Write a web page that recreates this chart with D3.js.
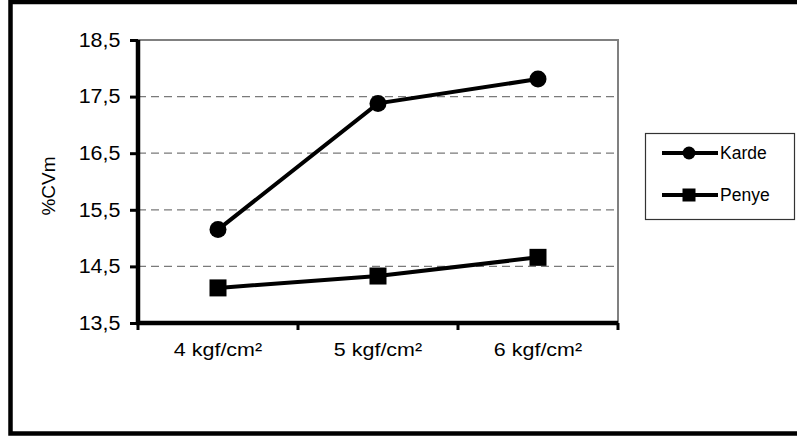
<!DOCTYPE html>
<html>
<head>
<meta charset="utf-8">
<script src="https://cdn.jsdelivr.net/npm/d3@7/dist/d3.min.js"></script>
<style>
  html, body { margin: 0; padding: 0; background: #fff; }
  svg { display: block; }
  text { font-family: Arial, "Liberation Sans", sans-serif; fill: #000; }
</style>
</head>
<body>
<script>
// Pressure levels on the x axis
const categories = ["4 kgf/cm²", "5 kgf/cm²", "6 kgf/cm²"];
// %CVm values per series
const kardeValues = [15.15, 17.38, 17.81];
const penyeValues = [14.12, 14.33, 14.66];
const seriesNames = ["Karde", "Penye"];
// Y axis ticks and their labels
const yTicks = [13.5, 14.5, 15.5, 16.5, 17.5, 18.5];
const yTickLabels = ["13,5", "14,5", "15,5", "16,5", "17,5", "18,5"];

const W = 797, H = 437;
const plot = { left: 138, right: 618, top: 40, bottom: 323 };

const svg = d3.select("body").append("svg").attr("width", W).attr("height", H);

// Outer frame
svg.append("rect")
  .attr("x", 10.5).attr("y", 2).attr("width", 800).attr("height", 431.5)
  .attr("fill", "#fff").attr("stroke", "#000").attr("stroke-width", 4.5);

const x = d3.scaleBand().domain(categories).range([plot.left, plot.right]);
const y = d3.scaleLinear().domain([13.5, 18.5]).range([plot.bottom, plot.top]);

// Dashed gridlines
svg.append("g").selectAll("line")
  .data(yTicks.filter(t => t > 13.5 && t < 18.5))
  .join("line")
  .attr("x1", plot.left).attr("x2", plot.right)
  .attr("y1", d => y(d)).attr("y2", d => y(d))
  .attr("stroke", "#7a7a7a").attr("stroke-width", 1.2)
  .attr("stroke-dasharray", "8,5");

// Gray top and right border of the plot area
svg.append("path")
  .attr("d", `M${plot.left},${y(18.5)}H${plot.right}V${plot.bottom}`)
  .attr("fill", "none").attr("stroke", "#808080").attr("stroke-width", 2);

// Y axis
const yAxis = d3.axisLeft(y).tickValues(yTicks)
  .tickFormat((d, i) => yTickLabels[i]).tickSize(8).tickPadding(8);
const gy = svg.append("g").attr("transform", `translate(${plot.left},0)`).call(yAxis);
gy.select(".domain").attr("stroke", "#000").attr("stroke-width", 4.5)
  .attr("d", `M0,${plot.top}V${plot.bottom + 2}`);
gy.selectAll(".tick line").attr("stroke", "#000").attr("stroke-width", 3);
gy.selectAll(".tick text").attr("font-size", 19.5)
  .style("font-family", "Arial, 'Liberation Sans', sans-serif")
  .attr("fill", "#000")
  .attr("transform", "scale(1.1,1)");

// X axis with ticks at category boundaries
const boundaries = categories.map(c => x(c)).concat([plot.right]);
svg.append("line")
  .attr("x1", plot.left - 2).attr("x2", plot.right)
  .attr("y1", plot.bottom).attr("y2", plot.bottom)
  .attr("stroke", "#000").attr("stroke-width", 4.5);
svg.append("g").selectAll("line").data(boundaries).join("line")
  .attr("x1", d => d).attr("x2", d => d)
  .attr("y1", plot.bottom).attr("y2", plot.bottom + 7)
  .attr("stroke", "#000").attr("stroke-width", 3);
svg.append("g").selectAll("text").data(categories).join("text")
  .attr("transform", d => `translate(${x(d) + x.bandwidth() / 2},356) scale(1.13,1)`)
  .attr("text-anchor", "middle")
  .attr("font-size", 19)
  .text(d => d);

// Y axis title
svg.append("text")
  .attr("transform", `translate(55,186) rotate(-90)`)
  .attr("text-anchor", "middle")
  .attr("font-size", 19)
  .text("%CVm");

const cx = d => x(d) + x.bandwidth() / 2;
const line = d3.line().x(d => cx(d.c)).y(d => y(d.v));

const kardeData = categories.map((c, i) => ({ c, v: kardeValues[i] }));
const penyeData = categories.map((c, i) => ({ c, v: penyeValues[i] }));

// Karde series: line with circles
svg.append("path").datum(kardeData).attr("d", line)
  .attr("fill", "none").attr("stroke", "#000").attr("stroke-width", 4);
svg.append("g").selectAll("circle").data(kardeData).join("circle")
  .attr("cx", d => cx(d.c)).attr("cy", d => y(d.v)).attr("r", 8.5).attr("fill", "#000");

// Penye series: line with squares
const sq = 17;
svg.append("path").datum(penyeData).attr("d", line)
  .attr("fill", "none").attr("stroke", "#000").attr("stroke-width", 4);
svg.append("g").selectAll("rect").data(penyeData).join("rect")
  .attr("x", d => cx(d.c) - sq / 2).attr("y", d => y(d.v) - sq / 2)
  .attr("width", sq).attr("height", sq).attr("fill", "#000");

// Legend
const legend = svg.append("g");
legend.append("rect")
  .attr("x", 645.5).attr("y", 133.5).attr("width", 149).attr("height", 86)
  .attr("fill", "#fff").attr("stroke", "#333").attr("stroke-width", 1.2);
const legendRows = [
  { name: seriesNames[0], y: 153, shape: "circle" },
  { name: seriesNames[1], y: 195, shape: "square" }
];
legendRows.forEach(r => {
  legend.append("line").attr("x1", 662).attr("x2", 718).attr("y1", r.y).attr("y2", r.y)
    .attr("stroke", "#000").attr("stroke-width", 4);
  if (r.shape === "circle") {
    legend.append("circle").attr("cx", 689).attr("cy", r.y).attr("r", 6.5).attr("fill", "#000");
  } else {
    legend.append("rect").attr("x", 682.5).attr("y", r.y - 6.5).attr("width", 13).attr("height", 13).attr("fill", "#000");
  }
  legend.append("text").attr("x", 720).attr("y", r.y + 6).attr("font-size", 17.5).text(r.name);
});
</script>
</body>
</html>
